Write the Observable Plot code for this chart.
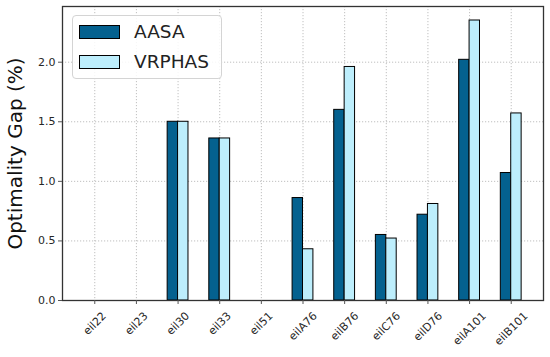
<!DOCTYPE html>
<html><head><meta charset="utf-8">
<script src="https://cdn.jsdelivr.net/npm/d3@7"></script>
<script src="https://cdn.jsdelivr.net/npm/@observablehq/plot@0.6"></script>
<style>
body{margin:0;background:#fff;font-family:"DejaVu Sans",sans-serif;}
#wrap{position:relative;width:550px;height:357px;}
.legend{position:absolute;left:72px;top:15px;width:150px;height:64px;border:1px solid #d4d4d4;border-radius:4px;background:rgba(255,255,255,0.85);box-sizing:border-box;}
.item{position:absolute;left:6px;height:20px;display:flex;align-items:center;}
.sw{display:inline-block;width:39px;height:12px;border:1px solid #000;margin-right:14px;}
.lt{font-size:18.5px;color:#222;line-height:20px;}
</style></head><body><div id="wrap"></div>
<script>
const categories = ["eil22","eil23","eil30","eil33","eil51","eilA76","eilB76","eilC76","eilD76","eilA101","eilB101"];
const aasa   = [0, 0, 1.50, 1.36, 0, 0.86, 1.60, 0.55, 0.72, 2.02, 1.07];
const vrphas = [0, 0, 1.50, 1.36, 0, 0.43, 1.96, 0.52, 0.81, 2.35, 1.57];
const yTicks = [0, 0.5, 1.0, 1.5, 2.0];
const seriesNames = ["AASA", "VRPHAS"];
const seriesColors = ["#04618f", "#bdeefc"];
const yLabel = "Optimality Gap (%)";

const idx = categories.map((c, i) => i);
const rows = categories.flatMap((c, i) => [
  {cat: c, series: "AASA", value: aasa[i], x1: i - 0.25, x2: i},
  {cat: c, series: "VRPHAS", value: vrphas[i], x1: i, x2: i + 0.25}
]);

const grid = {stroke: "#b0b0b0", strokeDasharray: "1.2,1.8", strokeWidth: 0.8};
const chart = Plot.plot({
  width: 550, height: 357,
  marginLeft: 62, marginRight: 7, marginTop: 6, marginBottom: 57,
  style: {fontFamily: "DejaVu Sans", fontSize: "11px", color: "#262626", background: "#fff"},
  x: {domain: [-0.775, 10.775], axis: null},
  y: {domain: [0, 2.4675], axis: null},
  color: {domain: seriesNames, range: seriesColors},
  marks: [
    Plot.ruleY(yTicks.slice(1), grid),
    Plot.ruleX(idx, grid),
    Plot.rectY(rows, {x1: "x1", x2: "x2", y1: 0, y2: "value", fill: "series", stroke: "#000", strokeWidth: 1}),
    Plot.frame({stroke: "#333", strokeWidth: 1.3}),
    Plot.axisY(yTicks, {tickSize: 4, tickPadding: 3, tickFormat: d => d.toFixed(1), stroke: "#555", fill: "#262626", fontSize: 11, label: null}),
    Plot.axisY({ticks: [], label: yLabel, labelAnchor: "center", labelArrow: "none", labelOffset: 55, fontSize: 20, fill: "#111"}),
    Plot.axisX(idx, {tickSize: 4, stroke: "#555", text: null, label: null}),
    Plot.text(categories, {x: (d, i) => i, frameAnchor: "bottom", rotate: -45, textAnchor: "middle", fontSize: 11, fill: "#262626", className: "xlab"})
  ]
});
const wrap = document.getElementById("wrap");
wrap.appendChild(chart);

// center rotated tick labels under their ticks with a common top edge (matplotlib style)
const xScale = chart.scale("x");
chart.querySelectorAll(".xlab text").forEach((t, i) => {
  const b = t.getBBox();
  const rotH = (b.width + b.height) * Math.SQRT1_2;
  const cx = xScale.apply(i);
  const cy = 300 + 9 + rotH / 2;
  t.setAttribute("transform", `translate(${cx},${cy}) rotate(-45)`);
  t.removeAttribute("x"); t.removeAttribute("y");
  t.setAttribute("dy", "0.32em");
});

// legend
const leg = document.createElement("div");
leg.className = "legend";
seriesNames.forEach((s, i) => {
  const it = document.createElement("div");
  it.className = "item";
  it.style.top = (i === 0 ? 6 : 36) + "px";
  const sw = document.createElement("span");
  sw.className = "sw"; sw.style.background = seriesColors[i];
  const lt = document.createElement("span");
  lt.className = "lt"; lt.textContent = s;
  it.appendChild(sw); it.appendChild(lt);
  leg.appendChild(it);
});
wrap.appendChild(leg);
</script>
</body></html>
